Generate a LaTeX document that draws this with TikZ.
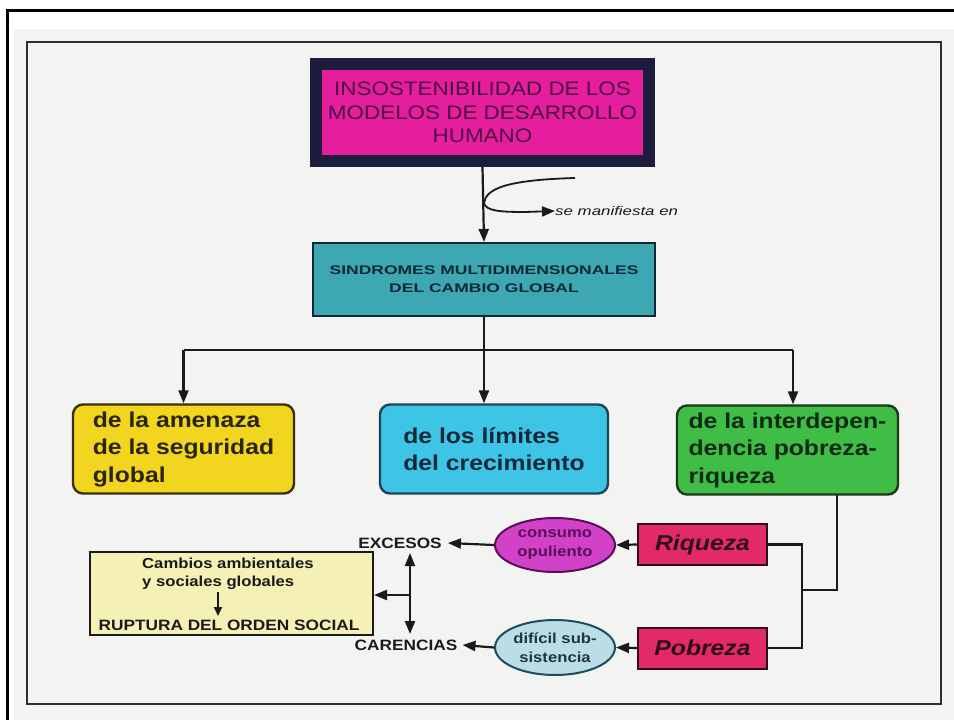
\documentclass[tikz,border=0pt]{standalone}
\usepackage{fontspec}
\setmainfont{Liberation Sans}
\newfontfamily\sw[FakeStretch=1.15]{Liberation Sans}
\newfontfamily\swide[FakeStretch=1.4]{Liberation Sans}
\newfontfamily\sman[FakeStretch=1.35]{Liberation Sans}
\usetikzlibrary{arrows.meta,shapes.geometric}
\definecolor{pagebg}{HTML}{F3F3F1}
\definecolor{framec}{HTML}{2E2E30}
\definecolor{navyb}{HTML}{1C1C3C}
\definecolor{magf}{HTML}{E41E9C}
\definecolor{magt}{HTML}{4E0E46}
\definecolor{tealf}{HTML}{3DA7B2}
\definecolor{tealt}{HTML}{0F2838}
\definecolor{yelf}{HTML}{F2D51E}
\definecolor{yelt}{HTML}{2A2410}
\definecolor{yelb}{HTML}{3A3010}
\definecolor{cyanf}{HTML}{3EC5E6}
\definecolor{cyant}{HTML}{10283A}
\definecolor{cyanb}{HTML}{1A4658}
\definecolor{grnf}{HTML}{3FBD47}
\definecolor{grnt}{HTML}{0E2A10}
\definecolor{grnb}{HTML}{1A3A1A}
\definecolor{consf}{HTML}{D242C8}
\definecolor{const}{HTML}{5A0E5A}
\definecolor{diff}{HTML}{BADDE6}
\definecolor{difb}{HTML}{1E4E5C}
\definecolor{dift}{HTML}{1E3640}
\definecolor{redf}{HTML}{E22A66}
\definecolor{redt}{HTML}{2E0E18}
\definecolor{palef}{HTML}{F4F0B6}
\definecolor{inkc}{HTML}{1A1A1A}
\tikzset{
  x=1pt,y=-1pt,
  arr/.style={draw=inkc,line width=2.2pt,-{Triangle[length=13pt,width=10pt]}},
  darr/.style={draw=inkc,line width=2.2pt,{Triangle[length=13pt,width=10pt]}-{Triangle[length=13pt,width=10pt]}},
  sarr/.style={draw=inkc,line width=1.8pt,-{Triangle[length=9pt,width=8pt]}},
  conn/.style={draw=inkc,line width=2.2pt},
  bigbox/.style={line width=2.4pt,rounded corners=10pt,inner sep=0pt,
    minimum height=89pt,align=left,font=\sw\bfseries\fontsize{21.5}{27.5}\selectfont},
  redbox/.style={draw=redt,line width=2pt,fill=redf,inner sep=0pt,minimum width=129pt,
    minimum height=41pt,text=redt,font=\sw\bfseries\itshape\fontsize{21.5}{24}\selectfont},
  ell/.style={ellipse,line width=2pt,inner sep=0pt,minimum width=120pt,minimum height=54pt,
    align=center,font=\sw\bfseries\fontsize{14.5}{19}\selectfont},
  lab/.style={inner sep=0pt,text=inkc,font=\sw\bfseries\fontsize{15}{18}\selectfont},
}
\begin{document}
\begin{tikzpicture}
\useasboundingbox (0,0) rectangle (954,720);
\fill[white] (0,0) rectangle (954,720);
\fill[pagebg] (14,29) rectangle (954,720);
\draw[line width=3pt,black] (7,722) -- (7,10) -- (956,10);
\draw[framec,line width=2.4pt] (27,42) rectangle (941,704);

% top box
\node[draw=navyb,fill=magf,line width=12pt,minimum width=333pt,minimum height=97pt,inner sep=0pt,
  align=center,text=magt,font=\sw\fontsize{19.5}{23.5}\selectfont] (top) at (482.5,112.5)
  {INSOSTENIBILIDAD DE LOS\\MODELOS DE DESARROLLO\\HUMANO};

% teal box
\node[draw=tealt,fill=tealf,line width=2pt,minimum width=342pt,minimum height=73pt,inner sep=0pt,
  align=center,text=tealt,font=\swide\bfseries\fontsize{12.5}{18}\selectfont] (teal) at (484,279.5)
  {SINDROMES MULTIDIMENSIONALES\\DEL CAMBIO GLOBAL};

% manifest branch
\node[anchor=west,inner sep=0pt,text=inkc,font=\sman\itshape\fontsize{12.5}{14}\selectfont] (manif) at (555,211) {se manifiesta en};
\coordinate (cstart) at (575,178);
\coordinate (cmid) at (484,203);
\draw[arr] (top.south) -- (teal.north);
\draw[arr,line width=1.8pt] (cstart) .. controls (505,180) and (486,189) .. (cmid) .. controls (486,211) and (500,212) .. (525,212) -- (manif.west);

% three main boxes
\node[bigbox,draw=yelb,fill=yelf,text=yelt,minimum width=221pt] (yel) at (183.5,449) {de la amenaza\\de la seguridad\\global};
\node[bigbox,draw=cyanb,fill=cyanf,text=cyant,minimum width=228pt] (cya) at (494,449) {de los límites\\del crecimiento};
\node[bigbox,draw=grnb,fill=grnf,text=grnt,minimum width=221pt] (grn) at (787.5,450) {de la interdepen-\\dencia pobreza-\\riqueza};

\coordinate (bar) at (484,350);
\draw[conn] (teal.south) -- (bar);
\draw[conn] (yel.north |- bar) -- (bar) -- ([xshift=5.5pt]grn.north |- bar);
\draw[arr] (yel.north |- bar) -- (yel.north);
\draw[arr] (bar) -- (bar |- cya.north);
\draw[arr] ([xshift=5.5pt]grn.north |- bar) -- ([xshift=5.5pt]grn.north);

% riqueza / pobreza
\node[redbox] (riq) at (702.5,544.5) {Riqueza};
\node[redbox] (pob) at (702.5,648) {Pobreza};
\coordinate (gb) at (837,495);
\coordinate (jn) at (802,590);
\draw[conn] (gb) |- (jn);
\draw[conn] (riq.east) -| (jn);
\draw[conn] (pob.east) -| (jn);

% ellipses
\node[ell,draw=const,fill=consf,text=const] (cons) at (555,545) {consumo\\opuliento};
\node[ell,draw=difb,fill=diff,text=dift,minimum height=55pt] (dif) at (555,647.5) {difícil sub-\\sistencia};
\draw[arr] (riq.west) -- (cons.east);
\draw[arr] (pob.west) -- (dif.east);

% excesos / carencias
\node[lab] (exc) at (400,543) {EXCESOS};
\node[lab] (car) at (406,645) {CARENCIAS};
\draw[arr] (cons.west) -- ([xshift=6pt]exc.east);
\draw[arr] (dif.west) -- ([xshift=5pt]car.east);
\coordinate (vt) at (410,553);
\coordinate (vb) at (410,634);
\coordinate (vm) at (410,595);
\draw[darr] (vt) -- (vb);

% pale box
\node[draw=inkc,fill=palef,line width=2pt,minimum width=283pt,minimum height=83pt,inner sep=0pt] (pale) at (231.5,593.5) {};
\draw[arr] (vm) -- (pale.east |- vm);
\node[anchor=west,align=left,inner sep=0pt,text=inkc,font=\sw\bfseries\fontsize{14.5}{18}\selectfont] (camb) at (142,573.5) {Cambios ambientales\\y sociales globales};
\node[lab] (rupt) at (229,625) {RUPTURA DEL ORDEN SOCIAL};
\coordinate (sa) at (218,592);
\coordinate (sb) at (218,616);
\draw[sarr] (sa) -- (sb);
\end{tikzpicture}
\end{document}
